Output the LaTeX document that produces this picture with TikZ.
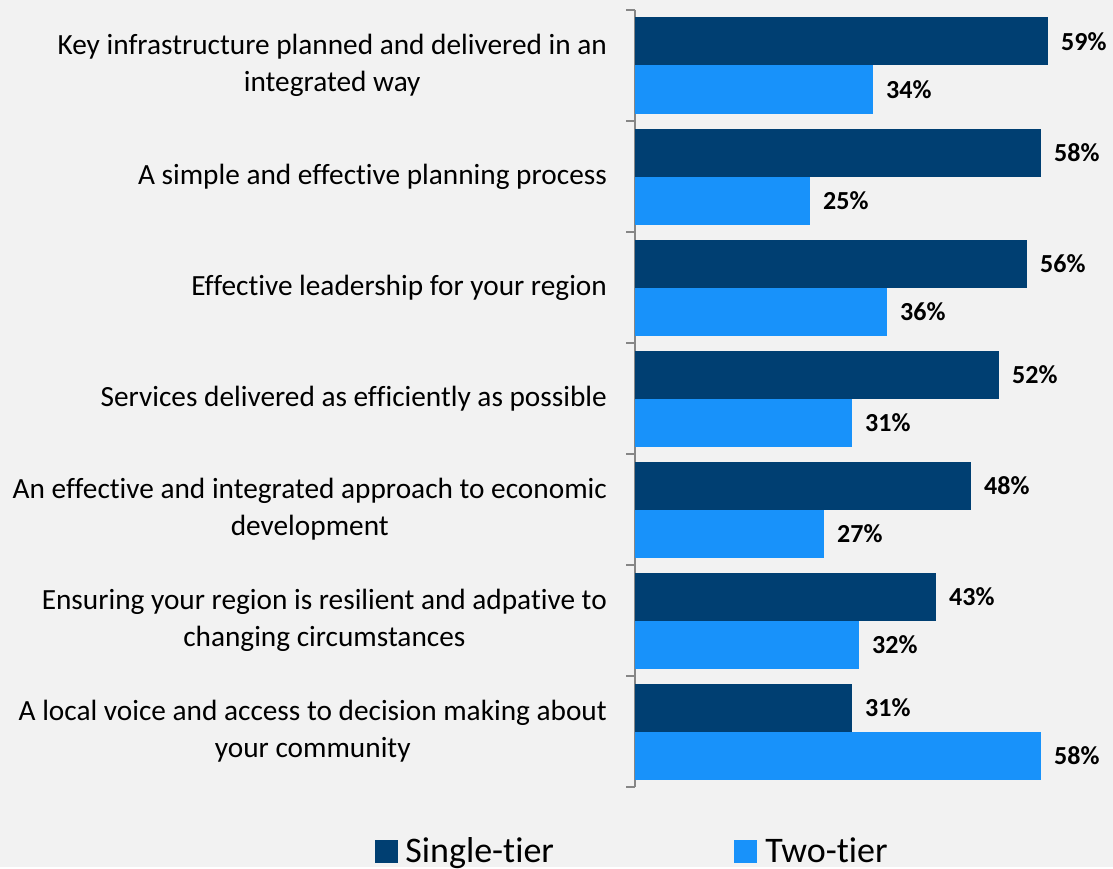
\documentclass[tikz,border=0pt]{standalone}
\usepackage{fontspec}
\setmainfont{Carlito}[Ligatures=NoCommon]
\usepackage{tikz}
\usetikzlibrary{positioning}
\definecolor{singletier}{RGB}{0,63,114}
\definecolor{twotier}{RGB}{24,146,250}
\definecolor{axisgray}{RGB}{134,134,134}
\definecolor{chartbg}{RGB}{242,242,242}

\begin{document}
\begin{tikzpicture}[x=1pt, y=-1pt,
	catlabel/.style={anchor=east, align=center, inner sep=0pt, font=\fontsize{29.3}{37}\selectfont},
	vallabel/.style={anchor=west, inner sep=0pt, font=\fontsize{26}{30}\selectfont\bfseries},
	legendbox/.style={minimum width=23pt, minimum height=23pt, inner sep=0pt},
	legendtext/.style={anchor=base west, inner sep=0pt, font=\fontsize{36}{40}\selectfont}]
					\fill[chartbg] (0,0) rectangle (1113,867);
					\coordinate (O) at (635,10);
					\coordinate (E) at (635,787);
					\draw[axisgray, line width=1.5pt] (O) -- (E);
					\foreach \i in {0,...,7}
						\draw[axisgray, line width=1.5pt] ([xshift=-9pt, yshift=-111*\i]O) -- ([yshift=-111*\i]O);
					%\draw[help lines] (0,0) grid[step=100] (1113,867);
					\foreach \s/\t/\lab [count=\i from 0] in {
						59/34/{Key infrastructure planned and delivered in an\\integrated way},
						58/25/{A simple and effective planning process},
						56/36/{Effective leadership for your region},
						52/31/{Services delivered as efficiently as possible},
						48/27/{An effective and integrated approach to economic\\development},
						43/32/{Ensuring your region is resilient and adpative to\\changing circumstances},
						31/58/{A local voice and access to decision making about\\your community}}{
						\pgfmathsetmacro{\ytop}{17.5+111*\i}
						\fill[singletier] (635,\ytop) rectangle ++(7*\s,48);
						\node[vallabel] (vs\i) at (635+7*\s+13, \ytop+24) {\s\%};
						\fill[twotier] (635,\ytop+48) rectangle ++(7*\t,48);
						\node[vallabel] (vt\i) at (635+7*\t+13, \ytop+72) {\t\%};
						\node[catlabel] (c\i) at (607, \ytop+48) {\lab};
					}
					\node[legendbox, fill=singletier] (lsingle) at (386.5,851) {};
					\node[legendtext] (tsingle) at ([xshift=7pt]lsingle.south east) {Single-tier};
					\node[legendbox, fill=twotier] (ltwo) at (745.5,851) {};
					\node[legendtext] (ttwo) at ([xshift=8pt]ltwo.south east) {Two-tier};
				\end{tikzpicture}
\end{document}
